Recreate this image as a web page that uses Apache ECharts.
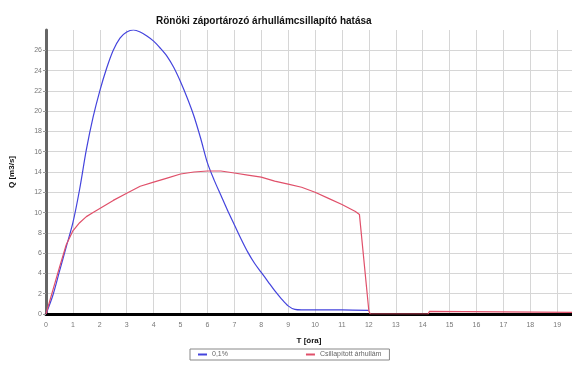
<!DOCTYPE html>
<html>
<head>
<meta charset="utf-8">
<script src="https://cdn.jsdelivr.net/npm/echarts@6/dist/echarts.min.js"></script>
<style>
  html, body { margin: 0; padding: 0; background: #fff; }
  #main { width: 572px; height: 372px; }
</style>
</head>
<body>
<div id="main"></div>
<script>
// 0,1% valószínűségű árhullám [T óra, Q m3/s]
var seriesNames = ['0,1%', 'Csillapított árhullám'];
var blueData = [
    [0, 0], [0.25, 1.8], [0.5, 4.2], [0.75, 6.6], [1, 9.0], [1.25, 12.3], [1.5, 16.2],
    [1.75, 19.4], [2, 22], [2.25, 24.2], [2.5, 26.0], [2.75, 27.2], [3, 27.8], [3.25, 28.0],
    [3.5, 27.8], [3.75, 27.4], [4, 26.9], [4.25, 26.2], [4.5, 25.4], [4.75, 24.3], [5, 22.9],
    [5.25, 21.3], [5.5, 19.5], [5.75, 17.3], [6, 14.9], [6.25, 13.2], [6.5, 11.7], [6.75, 10.2],
    [7, 8.8], [7.25, 7.4], [7.5, 6.1], [7.75, 5.0], [8, 4.1], [8.25, 3.2], [8.5, 2.3],
    [8.75, 1.5], [9, 0.8], [9.25, 0.45], [9.5, 0.4], [10, 0.4], [11, 0.4], [12, 0.35]
];
// csillapított árhullám
var redData = [
    [0, 0], [0.25, 2.3], [0.5, 4.6], [0.75, 6.8], [1, 8.2], [1.25, 9.0], [1.5, 9.6],
    [1.75, 10.0], [2, 10.4], [2.5, 11.2], [3, 11.9], [3.5, 12.6], [4, 13.0], [4.5, 13.4],
    [5, 13.8], [5.5, 14.0], [6, 14.1], [6.5, 14.1], [7, 13.9], [7.5, 13.7], [8, 13.5],
    [8.5, 13.1], [9, 12.8], [9.5, 12.5], [10, 12.0], [10.5, 11.4], [11, 10.8], [11.5, 10.1],
    [11.65, 9.8], [12, 0.3], [12.05, 0], [14.2, 0], [14.25, 0.25], [19.6, 0.15]
];
var xMax = 19.55, yMax = 28;

var font = 'Liberation Sans';
var myChart = echarts.init(document.getElementById('main'));
var option = {
    animation: false,
    title: {
        text: 'Rönöki záportározó árhullámcsillapító hatása',
        left: 151,
        top: 11,
        textStyle: { fontFamily: font, fontSize: 10, fontWeight: 'bold', color: '#111' }
    },
    legend: {
        data: seriesNames,
        bottom: 12,
        left: 190,
        itemWidth: 9,
        itemHeight: 2,
        itemGap: 78,
        padding: [2, 8, 2, 8],
        borderColor: '#888',
        borderWidth: 1,
        borderRadius: 0,
        icon: 'rect',
        textStyle: { fontFamily: font, fontSize: 7, color: '#666' }
    },
    grid: { left: 46, right: 0, top: 30, bottom: 58, containLabel: false },
    xAxis: {
        type: 'value',
        min: 0,
        max: xMax,
        interval: 1,
        name: 'T [óra]',
        nameLocation: 'middle',
        nameGap: 23,
        nameTextStyle: { fontFamily: font, fontSize: 8, fontWeight: 'bold', color: '#111' },
        axisLine: { lineStyle: { color: '#000', width: 3 } },
        axisTick: { show: false },
        axisLabel: { showMaxLabel: false, fontFamily: font, fontSize: 7, color: '#777', margin: 8 },
        splitLine: { show: true, showMaxLine: false, lineStyle: { color: '#d6d6d6', width: 1 } }
    },
    yAxis: {
        type: 'value',
        min: 0,
        max: yMax,
        interval: 2,
        name: 'Q [m3/s]',
        nameLocation: 'middle',
        nameGap: 30,
        nameTextStyle: { fontFamily: font, fontSize: 8, fontWeight: 'bold', color: '#111' },
        axisLine: { show: true, lineStyle: { color: '#666', width: 3 } },
        axisTick: { show: true, length: 3, lineStyle: { color: '#999' } },
        axisLabel: { showMaxLabel: false, fontFamily: font, fontSize: 7, color: '#777', margin: 4 },
        splitLine: { show: true, showMaxLine: false, lineStyle: { color: '#d6d6d6', width: 1 } }
    },
    series: [{
        name: seriesNames[0],
        type: 'line',
        data: blueData,
        symbol: 'none',
        smooth: 0.3,
        color: '#4444dd',
        lineStyle: { width: 1.2 }
    }, {
        name: seriesNames[1],
        type: 'line',
        data: redData,
        symbol: 'none',
        color: '#e0506a',
        lineStyle: { width: 1.2 }
    }]
};
myChart.setOption(option, true);
</script>
</body>
</html>
